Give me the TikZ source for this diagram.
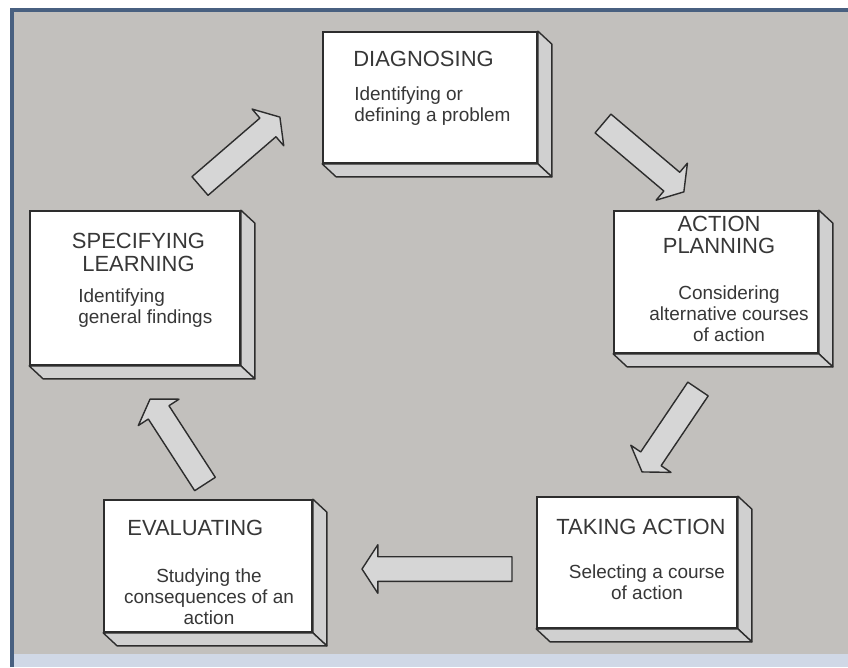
\documentclass[tikz,border=0pt]{standalone}
\usepackage{fontspec}
\setmainfont{Liberation Sans}
\usetikzlibrary{calc}

\definecolor{paper}{RGB}{194,192,189}
\definecolor{frameblue}{RGB}{72,96,128}
\definecolor{stripblue}{RGB}{208,216,230}
\definecolor{edge}{RGB}{45,45,45}
\definecolor{sidegray}{RGB}{208,208,208}
\definecolor{arrowgray}{RGB}{214,214,214}
\definecolor{inkgray}{RGB}{55,55,55}

\tikzset{
  stage/.style={draw=edge, line width=1pt, fill=white, inner sep=0pt},
  sideface/.style={draw=edge, line width=0.8pt, fill=sidegray, line join=round},
  title/.style={font=\fontsize{12.5}{13}\selectfont, text=inkgray, inner sep=0pt},
  note/.style={font=\fontsize{10.8}{12}\selectfont, text=inkgray, inner sep=0pt},
  blockarrow/.style={draw=edge, line width=0.8pt, fill=arrowgray, line join=round}
}

% depth faces of a box
\newcommand\extrude[1]{%
  \draw[sideface] (#1.north east) -- ++(14,13) -- ($(#1.south east)+(14,13)$) -- (#1.south east) -- cycle;
  \draw[sideface] (#1.south west) -- ++(14,13) -- ($(#1.south east)+(14,13)$) -- (#1.south east) -- cycle;
}

% block arrow from tail #1 to tip #2
\newcommand\blockarrow[2]{%
  \pgfmathanglebetweenpoints{\pgfpointanchor{#1}{center}}{\pgfpointanchor{#2}{center}}%
  \let\arang\pgfmathresult
  \pgfpointdiff{\pgfpointanchor{#1}{center}}{\pgfpointanchor{#2}{center}}%
  \pgfgetlastxy{\arx}{\ary}%
  \pgfmathsetmacro\arlen{veclen(\arx,\ary)}%
  \begin{scope}[shift={(#1)}, rotate=\arang]
    \draw[blockarrow] (0pt,-7pt) -- (\arlen pt-9pt,-7pt) -- (\arlen pt-9pt,-13.8pt)
      -- (\arlen pt,0pt) -- (\arlen pt-9pt,13.8pt) -- (\arlen pt-9pt,7pt) -- (0pt,7pt) -- cycle;
  \end{scope}}

\begin{document}
\begin{tikzpicture}[x=0.02cm, y=-0.02cm]
  \useasboundingbox (0,0) rectangle (848,667);
  \fill[white] (0,0) rectangle (848,667);
  \fill[paper] (12,10) rectangle (848,654);
  \fill[stripblue] (12,654) rectangle (848,667);
  \draw[frameblue, line width=2.4pt] (12,667) -- (12,10) -- (848,10);

  % boxes
  \node[stage, minimum width=4.28cm, minimum height=2.62cm] (diag) at (430,97.5) {};
  \extrude{diag}
  \node[title, anchor=west] (diag-t) at (353,59) {DIAGNOSING};
  \node[note, anchor=west, align=left] (diag-n) at (354,106.5) {Identifying or\\defining a problem};

  \node[stage, minimum width=4.08cm, minimum height=2.84cm] (plan) at (716,282) {};
  \extrude{plan}
  \node[title, align=center] (plan-t) at (719,235) {ACTION\\PLANNING};
  \node[note, align=center] (plan-n) at (729,314) {Considering\\alternative courses\\of action};

  \node[stage, minimum width=4.0cm, minimum height=2.62cm] (take) at (637,562.5) {};
  \extrude{take}
  \node[title] (take-t) at (641,527) {TAKING ACTION};
  \node[note, align=center] (take-n) at (647,582.5) {Selecting a course\\of action};

  \node[stage, minimum width=4.16cm, minimum height=2.64cm] (eval) at (208,566) {};
  \extrude{eval}
  \node[title, anchor=west] (eval-t) at (127,528) {EVALUATING};
  \node[note, align=center] (eval-n) at (209,597) {Studying the\\consequences of an\\action};

  \node[stage, minimum width=4.2cm, minimum height=3.08cm] (spec) at (135,288) {};
  \extrude{spec}
  \node[title, align=center] (spec-t) at (138.5,252.5) {SPECIFYING\\LEARNING};
  \node[note, anchor=west, align=left] (spec-n) at (78,308) {Identifying\\general findings};

  % arrows
  \coordinate (a1s) at (200,186);   \coordinate (a1e) at (280,117);
  \coordinate (a2s) at (603,123.5); \coordinate (a2e) at (684,192);
  \coordinate (a3s) at (698,389);   \coordinate (a3e) at (642,472);
  \coordinate (a4s) at (512,569);   \coordinate (a4e) at (362,569);
  \coordinate (a5s) at (205,484);   \coordinate (a5e) at (150,399);
  \blockarrow{a1s}{a1e}
  \blockarrow{a2s}{a2e}
  \blockarrow{a3s}{a3e}
  \blockarrow{a4s}{a4e}
  \blockarrow{a5s}{a5e}
\end{tikzpicture}
\end{document}
